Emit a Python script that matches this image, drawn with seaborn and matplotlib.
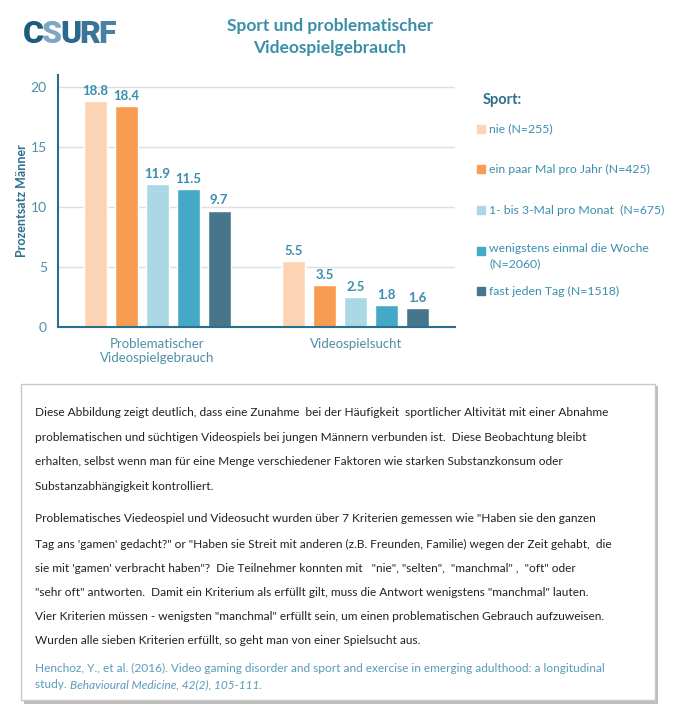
import pandas as pd
import matplotlib.pyplot as plt
import seaborn as sns
from matplotlib.patches import Rectangle

# ====== Daten ======
kategorien = ["Problematischer\nVideospielgebrauch", "Videospielsucht"]
sport = ["nie (N=255)", "ein paar Mal pro Jahr (N=425)", "1- bis 3-Mal pro Monat  (N=675)",
         "wenigstens einmal die Woche\n(N=2060)", "fast jeden Tag (N=1518)"]
problematisch = [18.8, 18.4, 11.9, 11.5, 9.7]
sucht = [5.5, 3.5, 2.5, 1.8, 1.6]
farben = ["#FDD4B3", "#F79C50", "#AAD8E5", "#44A8C7", "#46758C"]

y_ticks = [0, 5, 10, 15, 20]

df = pd.DataFrame({
    "kategorie": [kategorien[0]] * 5 + [kategorien[1]] * 5,
    "sport": sport * 2,
    "wert": problematisch + sucht,
})

teal = "#3A8EAE"
teal_dark = "#2B6F8C"

W, H = 679, 723
sns.set_theme(style="white")
plt.rcParams["font.family"] = ["Lato", "DejaVu Sans"]

fig = plt.figure(figsize=(W / 100, H / 100), dpi=100)
ax = fig.add_axes([58 / W, 1 - 327 / H, 397 / W, 252 / H])

sns.barplot(data=df, x="kategorie", y="wert", hue="sport", palette=farben,
            width=0.78, gap=0.25, ax=ax, legend=False, saturation=1)

for c in ax.containers:
    ax.bar_label(c, fmt="%.1f", padding=3, fontsize=9.5, fontweight="bold", color=teal)

ax.set_xlim(-0.5, 1.5)
ax.set_ylim(0, 21)
ax.set_yticks(y_ticks)
ax.yaxis.grid(True, color="#DCDFE3", linewidth=1)
ax.set_axisbelow(True)
ax.tick_params(axis="y", colors="#4F8FA8", labelsize=10, length=0, pad=8)
ax.tick_params(axis="x", colors="#4F8FA8", labelsize=9.5, length=0, pad=8)
for lbl in ax.get_xticklabels():
    lbl.set_verticalalignment("top")
ax.set_xlabel("")
ax.set_ylabel("Prozentsatz Männer", fontsize=9, fontweight="bold", color=teal_dark, labelpad=2)
for s in ["top", "right"]:
    ax.spines[s].set_visible(False)
for s in ["left", "bottom"]:
    ax.spines[s].set_color(teal_dark)
    ax.spines[s].set_linewidth(1.5)

# ====== Logo und Titel ======
fig.canvas.draw()
x = 23
for buchstabe, col in zip("CSURF", ["#1D5B7C", "#7FA6C2", "#2A6890", "#3B7499", "#4A80A3"]):
    t = fig.text(x / W, 1 - 43 / H, buchstabe, fontsize=23, fontweight="black", color=col, va="baseline",
                 family=["Roboto", "DejaVu Sans"])
    x = t.get_window_extent(fig.canvas.get_renderer()).x1 - 2
fig.text(330 / W, 1 - 37 / H, "Sport und problematischer\nVideospielgebrauch", ha="center", va="center",
         fontsize=12.5, fontweight="bold", color="#3A8FA8", linespacing=1.4)

# ====== Legende ======
fig.text(483 / W, 1 - 100 / H, "Sport:", fontsize=10.5, fontweight="bold", color=teal_dark, va="center")
leg_y = [129, 169, 210, 251, 291]
for lab, col, y in zip(sport, farben, leg_y):
    fig.add_artist(Rectangle((477 / W, 1 - (y + 4) / H), 8 / W, 8 / H, color=col, transform=fig.transFigure))
    if "\n" in lab:
        fig.text(489 / W, 1 - (y - 8) / H, lab, fontsize=8.8, color=teal, va="top", linespacing=1.45)
    else:
        fig.text(489 / W, 1 - y / H, lab, fontsize=8.8, color=teal, va="center")

# ====== Textbox ======
fig.add_artist(Rectangle((24 / W, 1 - 704 / H), 634 / W, 318 / H, facecolor="#BDBDBD",
                         edgecolor="none", transform=fig.transFigure, zorder=0))
fig.add_artist(Rectangle((21 / W, 1 - 700 / H), 634 / W, 316 / H, facecolor="white",
                         edgecolor="#C8C8C8", linewidth=1, transform=fig.transFigure, zorder=1))

absatz1 = [
    "Diese Abbildung zeigt deutlich, dass eine Zunahme  bei der Häufigkeit  sportlicher Altivität mit einer Abnahme",
    "problematischen und süchtigen Videospiels bei jungen Männern verbunden ist.  Diese Beobachtung bleibt",
    "erhalten, selbst wenn man für eine Menge verschiedener Faktoren wie starken Substanzkonsum oder",
    "Substanzabhängigkeit kontrolliert.",
]
absatz2 = [
    "Problematisches Viedeospiel und Videosucht wurden über 7 Kriterien gemessen wie \"Haben sie den ganzen",
    "Tag ans 'gamen' gedacht?\" or \"Haben sie Streit mit anderen (z.B. Freunden, Familie) wegen der Zeit gehabt,  die",
    "sie mit 'gamen' verbracht haben\"?  Die Teilnehmer konnten mit   \"nie\", \"selten\",  \"manchmal\" ,  \"oft\" oder",
    "\"sehr oft\" antworten.  Damit ein Kriterium als erfüllt gilt, muss die Antwort wenigstens \"manchmal\" lauten.",
    "Vier Kriterien müssen - wenigsten \"manchmal\" erfüllt sein, um einen problematischen Gebrauch aufzuweisen.",
    "Wurden alle sieben Kriterien erfüllt, so geht man von einer Spielsucht aus.",
]
y1 = [413, 438, 462, 487]
y2 = [519, 544, 568, 592, 617, 641]
for zeile, y in zip(absatz1 + absatz2, y1 + y2):
    fig.text(35 / W, 1 - y / H, zeile, fontsize=8.6, color="#222222", va="center", zorder=2)

fig.text(35 / W, 1 - 668 / H,
         "Henchoz, Y., et al. (2016). Video gaming disorder and sport and exercise in emerging adulthood: a longitudinal",
         fontsize=8.6, color="#5A9BBB", va="center", zorder=2)
t = fig.text(35 / W, 1 - 685 / H, "study. ", fontsize=8.6, color="#5A9BBB", va="center", zorder=2)
bb = t.get_window_extent(fig.canvas.get_renderer())
fig.text(bb.x1 / W, 1 - 685 / H, "Behavioural Medicine, 42(2), 105-111.", fontsize=8.6, style="italic",
         color="#5A9BBB", va="center", zorder=2)

fig.savefig("out.png", dpi=100, facecolor="white")
